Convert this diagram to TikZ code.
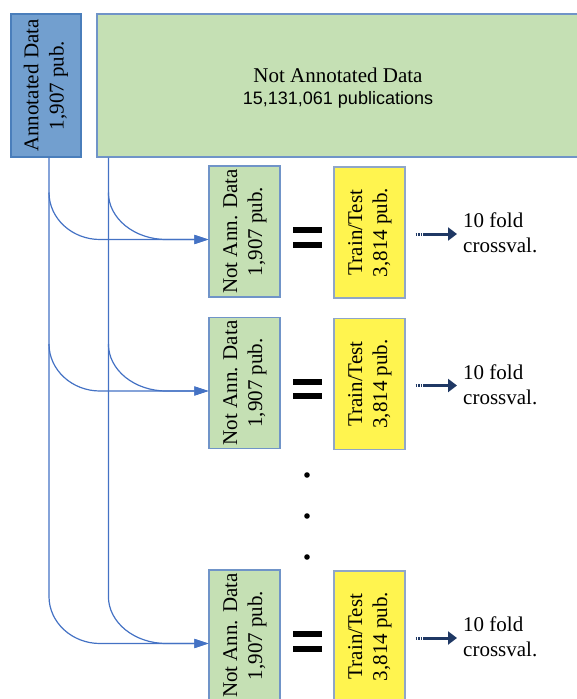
\documentclass[tikz,border=0pt]{standalone}
\usepackage{fontspec}
\setmainfont{Liberation Serif}
\newfontfamily\sansf{Liberation Sans}
\usetikzlibrary{arrows.meta,calc}
\definecolor{annfill}{HTML}{729FCF}
\definecolor{annline}{HTML}{4A7EBB}
\definecolor{grfill}{HTML}{C5E0B4}
\definecolor{grline}{HTML}{7094C8}
\definecolor{yefill}{HTML}{FFF44F}
\definecolor{yeline}{HTML}{8FA6C8}
\definecolor{linkblue}{HTML}{4472C4}
\definecolor{navy}{HTML}{1F3864}
\newcommand{\vtext}[2]{\rotatebox{90}{\begin{tabular}{@{}c@{}}#1\\#2\end{tabular}}}
\begin{document}
\begin{tikzpicture}[x=1pt,y=-1pt,
  txt/.style={font=\fontsize{21}{25}\selectfont},
  boxbase/.style={txt, draw, line width=1.2pt, inner sep=0pt, minimum width=71pt, minimum height=131pt},
  annbox/.style={boxbase, fill=annfill, draw=annline, minimum width=70pt, minimum height=143pt},
  bigbox/.style={draw=grline, fill=grfill, line width=1.2pt, minimum width=482pt, minimum height=143pt, inner sep=0pt},
  bigtext/.style={txt, inner sep=0pt, align=center},
  grbox/.style={boxbase, fill=grfill, draw=grline},
  yebox/.style={boxbase, fill=yefill, draw=yeline},
  eqbox/.style={minimum width=29pt, minimum height=20pt, inner sep=0pt},
  linkarrow/.style={draw=linkblue, line width=1.2pt, -{Triangle[length=14pt,width=9pt]}},
  outarrow/.style={draw=navy, line width=3pt, -{Triangle[length=9pt,width=13pt]},
    dash pattern=on 1.5pt off 1pt on 1.5pt off 1pt on 1.5pt off 1pt on 200pt off 0pt},
  cv/.style={txt, anchor=west, align=left, inner sep=0pt}
]
\useasboundingbox (0,0) rectangle (577,699);
\clip (0,0) rectangle (577,699);
\node[annbox] (ann) at (46,85.5) {\vtext{Annotated Data}{1,907 pub.}};
\node[bigbox] (big) at (338,85.5) {};
\node[bigtext] (bigt) at (338,88) {Not Annotated Data\\[-3pt]{\sansf\fontsize{18}{22}\selectfont 15,131,061 publications}};
\coordinate (a0) at ($(ann.south)+(3,0)$);
\coordinate (b0) at ($(big.south west)+(12,0)$);
\foreach \i/\yc in {1/231.5, 2/383, 3/635.5} {
  \node[grbox] (g\i) at (244.5,\yc) {\vtext{Not Ann. Data}{1,907 pub.}};
  \node[yebox] (t\i) at (369.5,\yc+1) {\vtext{Train/Test}{3,814 pub.}};
  \node[eqbox] (e\i) at (307.5,\yc+6) {};
  \fill (e\i.north west) rectangle ++(29,6);
  \fill (e\i.south west) rectangle ++(29,-6);
  \node[cv] (c\i) at (463,\yc+1.5) {10 fold\\crossval.};
  \draw[outarrow] ($(t\i.east)+(10,1.5)$) -- ($(c\i.west)+(-6,1)$);
  \coordinate (in\i) at ($(g\i.west)+(0,8)$);
}
\foreach \i in {1,2} {
  \draw[linkarrow] ($(a0|-in\i)+(0,-47)$) .. controls +(0,26) and +(-28,0) .. ($(a0|-in\i)+(51,0)$) -- (in\i);
  \draw[linkarrow] ($(b0|-in\i)+(0,-47)$) .. controls +(0,26) and +(-32,0) .. ($(b0|-in\i)+(58,0)$) -- (in\i);
}
\draw[linkarrow] (a0) -- ($(a0|-in3)+(0,-47)$) .. controls +(0,26) and +(-28,0) .. ($(a0|-in3)+(51,0)$) -- (in3);
\draw[linkarrow] (b0) -- ($(b0|-in3)+(0,-47)$) .. controls +(0,26) and +(-32,0) .. ($(b0|-in3)+(58,0)$) -- (in3);
\fill (307,475) circle (2.8);
\fill (307,516) circle (2.8);
\fill (307,557) circle (2.8);
\end{tikzpicture}
\end{document}
